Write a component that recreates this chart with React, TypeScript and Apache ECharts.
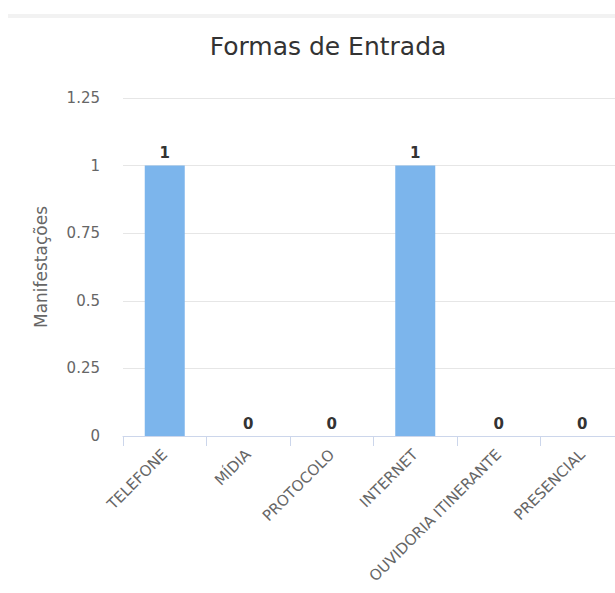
import React, { useEffect, useRef } from "react";
import * as echarts from "echarts";

const categories = ["TELEFONE", "MÍDIA", "PROTOCOLO", "INTERNET", "OUVIDORIA ITINERANTE", "PRESENCIAL"];
const values = [1, 0, 0, 1, 0, 0];
const titleText = "Formas de Entrada";
const yAxisName = "Manifestações";

const FONT = "'DejaVu Sans', Verdana, sans-serif";

export default function App() {
  const ref = useRef<HTMLDivElement>(null);
  useEffect(() => {
    if (!ref.current) return;
    const chart = echarts.init(ref.current, null, { renderer: "svg" });
    chart.setOption({
      animation: false,
      textStyle: { fontFamily: FONT },
      title: {
        text: titleText,
        left: 315,
        top: 29,
        textAlign: "center",
        textStyle: { fontFamily: FONT, fontSize: 25, fontWeight: "normal", color: "#333333" },
      },
      graphic: [
        { type: "rect", left: 0, top: 14, shape: { width: 630, height: 4 }, style: { fill: "#f2f2f2" } },
      ],
      grid: { left: 115, right: 14, top: 98, bottom: 157 },
      xAxis: {
        type: "category",
        data: categories,
        axisLine: { lineStyle: { color: "#ccd6eb" } },
        axisTick: { show: true, length: 10, lineStyle: { color: "#ccd6eb" } },
        axisLabel: { rotate: 45, interval: 0, fontSize: 15, color: "#666666", fontFamily: FONT, margin: 16 },
      },
      yAxis: {
        type: "value",
        min: 0,
        max: 1.25,
        interval: 0.25,
        name: yAxisName,
        nameLocation: "middle",
        nameGap: 74,
        nameTextStyle: { fontSize: 17, color: "#666666", fontFamily: FONT },
        axisLine: { show: false },
        axisTick: { show: false },
        axisLabel: { fontSize: 15, color: "#666666", fontFamily: FONT, margin: 23 },
        splitLine: { lineStyle: { color: "#e6e6e6" } },
      },
      series: [
        {
          type: "bar",
          data: values,
          barWidth: 40,
          itemStyle: { color: "#7cb5ec" },
          label: {
            show: true,
            position: "top",
            fontSize: 15,
            fontWeight: "bold",
            color: "#333333",
            fontFamily: FONT,
            distance: 5,
          },
        },
      ],
    });
    return () => chart.dispose();
  }, []);
  return (
    <div style={{ position: "fixed", left: 0, top: 0, width: 615, height: 593, overflow: "hidden", background: "#fff" }}>
      <div ref={ref} style={{ position: "absolute", left: 8, top: 0, width: 630, height: 593 }} />
    </div>
  );
}
